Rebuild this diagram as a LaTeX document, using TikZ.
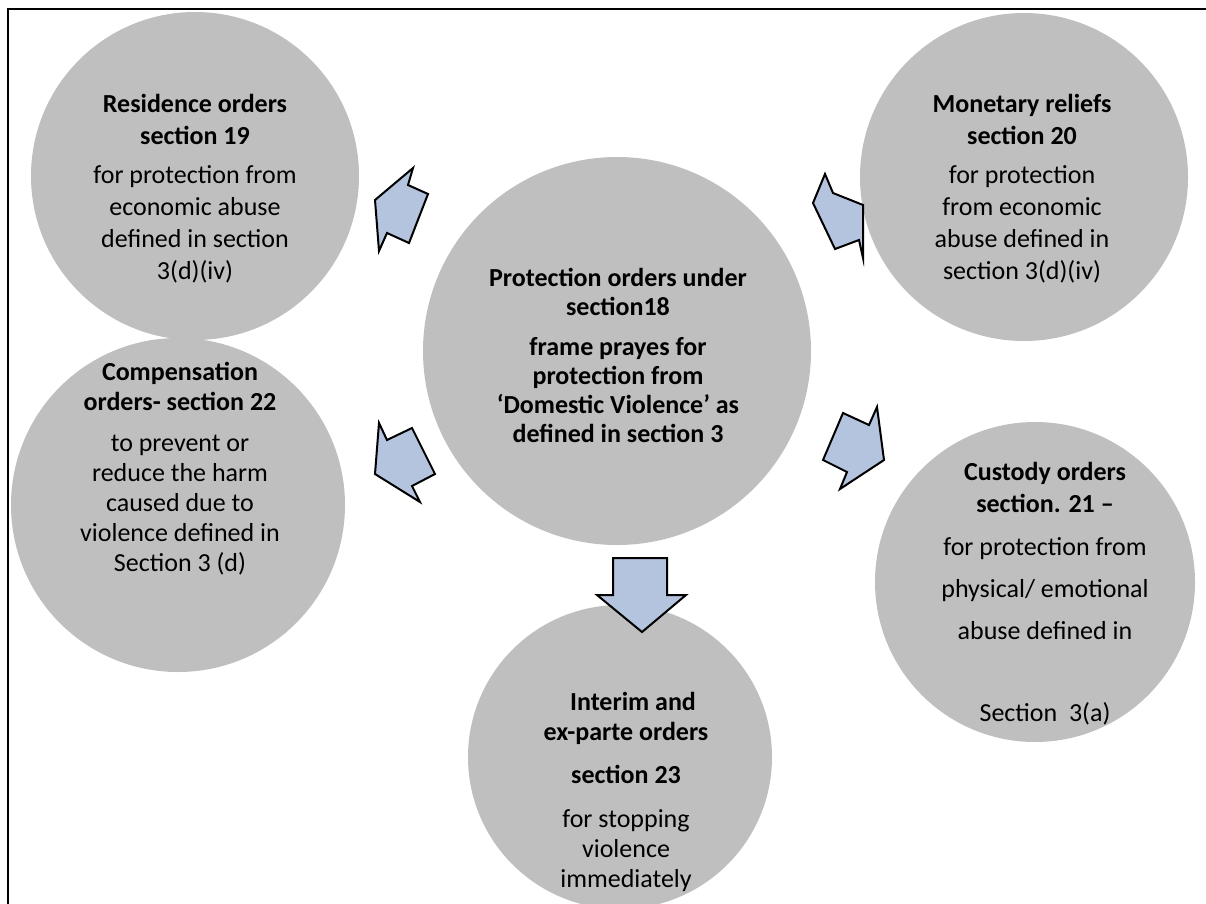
\documentclass[tikz,border=0pt]{standalone}
\usepackage{fontspec}
\setmainfont{Carlito}
\definecolor{DVGray}{HTML}{BFBFBF}
\definecolor{DVBlue}{HTML}{B4C3DE}
\usetikzlibrary{positioning}

\begin{document}
\begin{tikzpicture}[x=1pt,y=-1pt,
    every node/.style={font=\fontsize{26}{32}\selectfont},
    disc/.style={circle, fill=DVGray, minimum size=#1, inner sep=0pt},
    txt/.style={align=center, inner sep=0pt},
    blockarrow/.style={fill=DVBlue, draw=black, line width=2pt, line join=miter}]
    \useasboundingbox (0,0) rectangle (1206,903);
    \draw[line width=2pt] (1210,9) -- (8,9) -- (8,910);
    % circles
    \node[disc=328pt] (res) at (195,176) {};
    \node[disc=328pt] (mon) at (1024,177) {};
    \node[disc=388pt] (cen) at (617,351) {};
    \node[disc=334pt] (comp) at (178,505) {};
    \node[disc=320pt] (cust) at (1035,582) {};
    \node[disc=304pt] (inter) at (620,757) {};
    % texts
    \node[txt] (resT) at (195,189) {\textbf{Residence orders}\\ \textbf{section 19}\\[7pt]
      for protection from\\ economic abuse\\ defined in section\\ 3(d)(iv)};
    \node[txt] (monT) at (1022,189) {\textbf{Monetary reliefs}\\ \textbf{section 20}\\[7pt]
      for protection\\ from economic\\ abuse defined in\\ section 3(d)(iv)};
    \node[txt, font=\fontsize{26}{29}\selectfont\bfseries] (cenT) at (618,355) {Protection orders under\\ section18\\[11pt]
      frame prayes for\\ protection from\\ ‘Domestic Violence’ as\\ defined in section 3};
    \node[txt, font=\fontsize{26}{30}\selectfont] (compT) at (180,469) {\textbf{Compensation}\\ \textbf{orders- section 22}\\[11pt]
      to prevent or\\ reduce the harm\\ caused due to\\ violence defined in\\ Section 3 (d)};
    \node[txt] (custT) at (1045,594) {\textbf{Custody orders}\\ \textbf{section. 21 –}\\[11pt]
      for protection from\\[10pt] physical/ emotional\\[10pt] abuse defined in\\[50pt] Section\ \ 3(a)};
    \node[txt, font=\fontsize{26}{30}\selectfont] (interT) at (626,792) {\hspace*{14pt}\textbf{Interim and}\\ \textbf{ex-parte orders}\\[13pt]
      \textbf{section 23}\\[14pt] for stopping\\ violence\\ immediately};
    % block arrows
    \draw[blockarrow] (375,200) -- (413,168) -- (408,185) -- (428,194) -- (409,243) -- (387,233) -- (379,251) -- cycle;
    \draw[blockarrow] (813,203) -- (825,174) -- (833,193) -- (863,205) -- (863,258) -- (859,240) -- (835,249) -- cycle;
    \draw[blockarrow] (379,423) -- (387,440) -- (412,428) -- (435,474) -- (412,486) -- (420,502) -- (375,474) -- cycle;
    \draw[blockarrow] (843,413) -- (869,425) -- (877,407) -- (884,460) -- (840,489) -- (847,472) -- (823,460) -- cycle;
    \draw[blockarrow] (613,558) -- (667,558) -- (667,595) -- (686,595) -- (642,632) -- (597,595) -- (613,595) -- cycle;
\end{tikzpicture}
\end{document}
